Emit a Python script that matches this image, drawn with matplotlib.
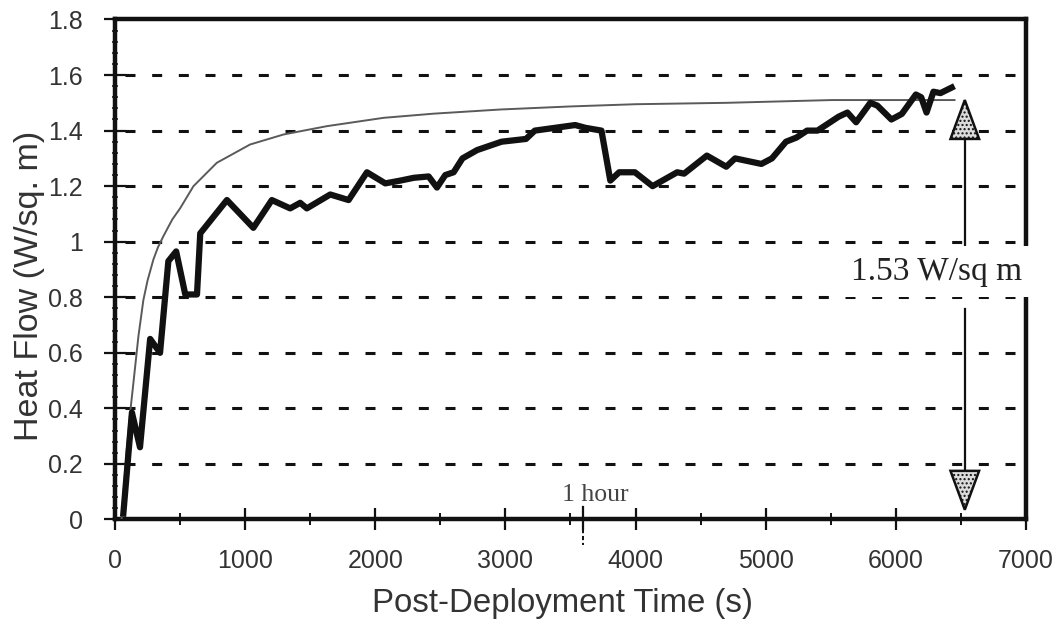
import matplotlib
matplotlib.use("Agg")
import matplotlib.pyplot as plt
from matplotlib.patches import Polygon
from matplotlib.ticker import MultipleLocator
import matplotlib.transforms as mtransforms

# ---- data ----
time_obs = [62, 130, 192, 270, 346, 410, 470, 540, 630, 655, 860, 1063, 1205, 1346,
            1423, 1474, 1654, 1795, 1936, 2077, 2192, 2295, 2410, 2474, 2538, 2602,
            2670, 2783, 2970, 3158, 3226, 3536, 3615, 3738, 3806, 3874, 3995, 4131,
            4320, 4373, 4548, 4697, 4765, 4967, 5048, 5156, 5237, 5318, 5398, 5560,
            5628, 5695, 5804, 5858, 5966, 6046, 6154, 6195, 6236, 6289, 6343, 6451]
flow_obs = [0.01, 0.385, 0.26, 0.65, 0.60, 0.93, 0.965, 0.81, 0.81, 1.03, 1.15, 1.05,
            1.15, 1.12, 1.14, 1.12, 1.17, 1.15, 1.25, 1.21, 1.22, 1.23, 1.235, 1.195,
            1.24, 1.25, 1.30, 1.33, 1.36, 1.37, 1.40, 1.42, 1.41, 1.40, 1.22, 1.25,
            1.25, 1.20, 1.25, 1.245, 1.31, 1.27, 1.30, 1.28, 1.30, 1.36, 1.375, 1.40,
            1.40, 1.45, 1.465, 1.43, 1.50, 1.49, 1.44, 1.46, 1.53, 1.52, 1.465, 1.54,
            1.535, 1.56]

time_fit = [50, 90, 120, 141, 180, 218, 250, 295, 330, 372, 440, 500, 603, 782, 1038,
            1295, 1628, 2064, 2449, 2962, 3500, 4000, 4697, 5508, 6451]
flow_fit = [0.0, 0.25, 0.40, 0.49, 0.66, 0.79, 0.86, 0.936, 0.98, 1.02, 1.08, 1.12,
            1.20, 1.284, 1.35, 1.386, 1.416, 1.446, 1.461, 1.476, 1.487, 1.495, 1.50,
            1.51, 1.51]

x_ticks = [0, 1000, 2000, 3000, 4000, 5000, 6000, 7000]
y_ticks = [0, 0.2, 0.4, 0.6, 0.8, 1.0, 1.2, 1.4, 1.6, 1.8]
y_tick_labels = ["0", "0.2", "0.4", "0.6", "0.8", "1", "1.2", "1.4", "1.6", "1.8"]

equilibrium_label = "1.53 W/sq m"
arrow_x = 6530
arrow_top = 1.51
arrow_bottom = 0.035
one_hour = 3600
one_hour_label = "1 hour"

# ---- figure ----
plt.rcParams['lines.scale_dashes'] = False
SANS = ['Liberation Sans', 'DejaVu Sans']
SERIF = ['Liberation Serif', 'DejaVu Serif']

fig = plt.figure(figsize=(10.59, 6.27), dpi=100)
ax = fig.add_axes([0.1086, 0.1715, 0.8602, 0.7974])

ax.set_xlim(0, 7000)
ax.set_ylim(0, 1.8)

# grid
for yv in y_ticks[1:-1]:
    ax.axhline(yv, color='#111111', lw=2.2, linestyle=(12, (7.2, 12.0)), zorder=1)

# curves
ax.plot(time_fit, flow_fit, color='#5a5a5a', lw=1.4, zorder=3)
ax.plot(time_obs, flow_obs, color='#111111', lw=4.5, zorder=4,
        solid_joinstyle='round', solid_capstyle='butt')

# spines
for sp in ax.spines.values():
    sp.set_linewidth(3.2)
    sp.set_color('#111111')

ax.set_xticks(x_ticks)
ax.set_yticks(y_ticks)
ax.set_yticklabels(y_tick_labels)
ax.xaxis.set_minor_locator(MultipleLocator(500))
ax.yaxis.set_minor_locator(MultipleLocator(0.04))
ax.tick_params(which='major', direction='inout', length=16, width=1.6,
               color='#111111', labelsize=18, labelcolor='#333333')
ax.tick_params(axis='x', which='major', pad=13)
ax.tick_params(axis='y', which='major', pad=15)
ax.tick_params(axis='x', which='minor', direction='inout', length=8, width=1.4,
               color='#111111')
ax.tick_params(axis='y', which='minor', direction='inout', length=5, width=1.1,
               color='#111111')
ax.tick_params(top=False, right=False, which='both')
for lab in ax.get_xticklabels() + ax.get_yticklabels():
    lab.set_family(SANS)

ax.set_xlabel("Post-Deployment Time (s)", fontsize=23.8, family=SANS, color='#333333',
              labelpad=14)
ax.set_ylabel("Heat Flow (W/sq. m)", fontsize=24.5, family=SANS, color='#333333')
ax.xaxis.set_label_coords(0.4907, -0.137)
ax.yaxis.set_label_coords(-0.077, 0.467)

# ---- equilibrium arrows ----
head_half = 110
head_len = 0.14
text_y = 0.893
ax.plot([arrow_x, arrow_x], [arrow_top - head_len, text_y + 0.09], color='#111111',
        lw=1.6, zorder=5)
ax.plot([arrow_x, arrow_x], [text_y - 0.137, arrow_bottom + head_len], color='#111111',
        lw=1.6, zorder=5)
for tip, base in [(arrow_top, arrow_top - head_len), (arrow_bottom, arrow_bottom + head_len)]:
    tri = Polygon([[arrow_x, tip], [arrow_x - head_half, base], [arrow_x + head_half, base]],
                  closed=True, facecolor='#dcdcdc', edgecolor='#111111', lw=1.8,
                  hatch='....', zorder=6)
    ax.add_patch(tri)

ax.text(6315, text_y, equilibrium_label, ha='center', va='center', fontsize=24,
        family=SERIF, color='#222222', zorder=10, clip_on=False,
        bbox=dict(boxstyle='square,pad=0.3', facecolor='white', edgecolor='none'))

# ---- one hour marker ----
trans = mtransforms.blended_transform_factory(ax.transData, ax.transAxes)
ax.plot([one_hour, one_hour], [0.024, -0.02], color='#111111', lw=1.6, transform=trans,
        clip_on=False, zorder=7)
ax.plot([one_hour, one_hour], [-0.02, -0.052], color='#111111', lw=1.4, transform=trans,
        clip_on=False, zorder=7, linestyle=(0, (3, 2)))
ax.text(3690, 0.066, one_hour_label, ha='center', va='baseline', fontsize=18.5,
        family=SERIF, color='#444444', zorder=8)

fig.savefig("out.png", dpi=100, facecolor='white')
